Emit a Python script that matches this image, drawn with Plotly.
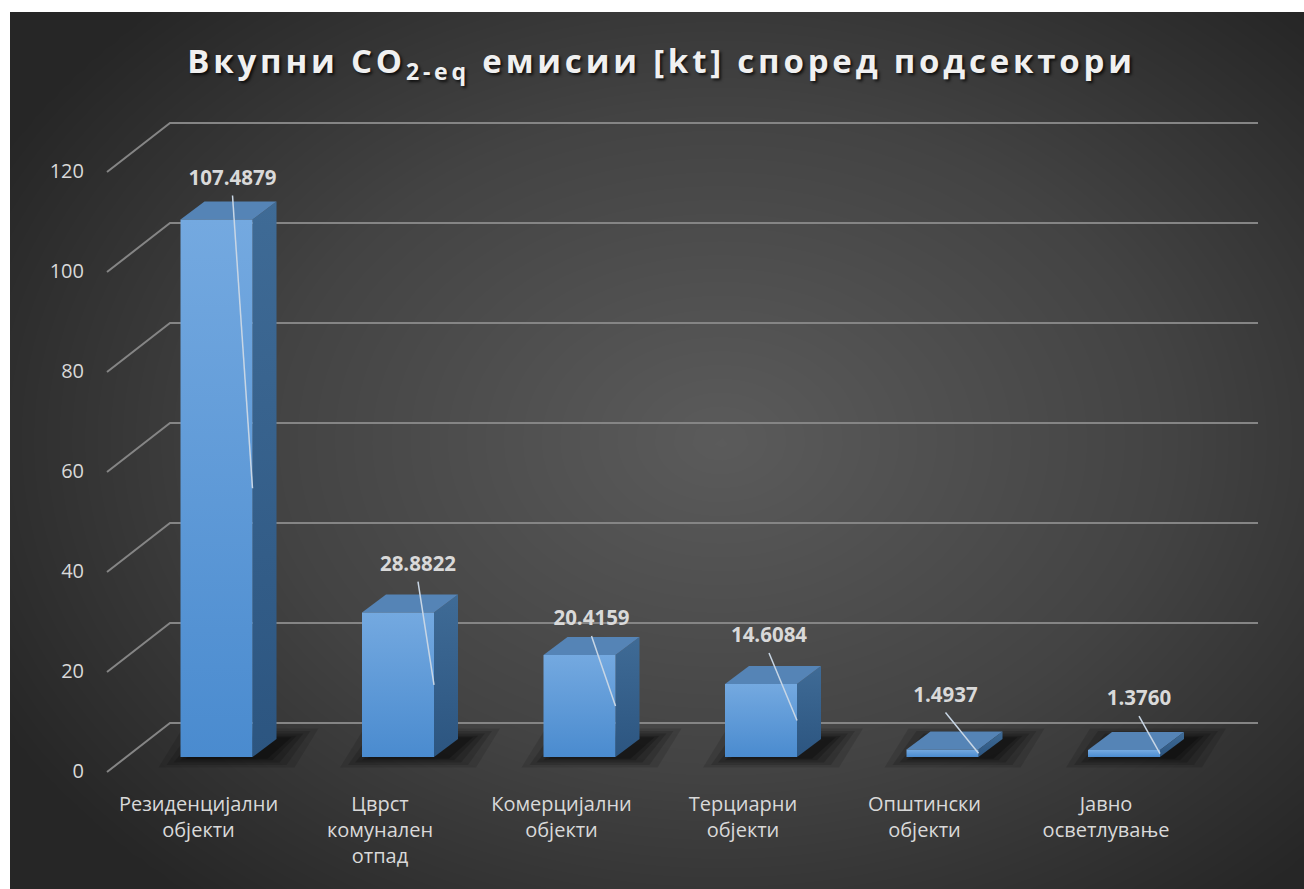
import numpy as np
import plotly.graph_objects as go

# ---------------- data ----------------
categories = ["Резиденцијални<br>објекти", "Цврст<br>комунален<br>отпад",
              "Комерцијални<br>објекти", "Терциарни<br>објекти",
              "Општински<br>објекти", "Јавно<br>осветлување"]
values = [107.4879, 28.8822, 20.4159, 14.6084, 1.4937, 1.3760]
value_labels = ["107.4879", "28.8822", "20.4159", "14.6084", "1.4937", "1.3760"]
y_ticks = [0, 20, 40, 60, 80, 100, 120]
title_text = "Вкупни CO<sub>2-eq</sub> емисии [kt] според подсектори"

# ---------------- layout / style constants ----------------
W, H = 1304, 889
PX0, STEP = 216.5, 181.5     # px of first bar front centre, px per category
Y0, PXU = 757, 5.0           # px of value 0 (bar front), px per unit
BW_PX, DX_PX, DY_PX = 72, 24, 18
label_dx_px = [16, 20, 12, 8, 3, 15]
label_dy_px = [40, 47, 35, 47, 53, 50]
FONT = "Open Sans"
TXT = "#d9d9d9"


def xd(px):
    return (px - PX0) / STEP


BW = BW_PX / STEP
DX = DX_PX / STEP
DY = DY_PX / PXU

fig = go.Figure()

# ---------------- background (radial gradient) ----------------
nx, ny = 90, 64
bx = np.linspace(10, W, nx)
by = np.linspace(12, H, ny)
BX, BY = np.meshgrid(bx, by)
R = np.sqrt(((BX - 720) / 820) ** 2 + ((BY - 440) / 600) ** 2)
R = np.clip(R, 0, 1)
fig.add_trace(go.Heatmap(x=bx, y=by, z=R, zmin=0, zmax=1, zsmooth="best",
                         colorscale=[[0, "#5b5b5b"], [0.55, "#434343"], [1, "#262626"]],
                         showscale=False, hoverinfo="skip", xaxis="x", yaxis="y"))

# ---------------- gridlines (3D wall + floor side) ----------------
gx, gy = [], []
for t in y_ticks:
    gx += [xd(107), xd(170), xd(1258), None]
    gy += [t - 3.0, t + 6.8, t + 6.8, None]
fig.add_trace(go.Scatter(x=gx, y=gy, mode="lines", line=dict(color="#858585", width=2),
                         hoverinfo="skip", xaxis="x2", yaxis="y2"))

# ---------------- shadows ----------------
for i, v in enumerate(values):
    c = i
    for e_px, op in [(32, 0.12), (24, 0.14), (17, 0.17), (10, 0.2), (5, 0.24)]:
        e = e_px / STEP
        ev = e_px * 0.33 / PXU
        sh = 10 / STEP
        xs = [c - BW / 2 - e + sh, c + BW / 2 + e + sh, c + BW / 2 + DX + e + sh, c - BW / 2 + DX - e + sh, c - BW / 2 - e + sh]
        ys = [0 - ev, 0 - ev, DY + ev, DY + ev, 0 - ev]
        fig.add_trace(go.Scatter(x=xs, y=ys, mode="lines", fill="toself",
                                 fillcolor=f"rgba(0,0,0,{op})", line=dict(width=0),
                                 hoverinfo="skip", xaxis="x2", yaxis="y2"))

# ---------------- 3D bars ----------------
for i, v in enumerate(values):
    c = i
    L, Rr = c - BW / 2, c + BW / 2
    # side face
    fig.add_trace(go.Scatter(x=[Rr, Rr + DX, Rr + DX, Rr, Rr], y=[0, DY, v + DY, v, 0],
                             mode="lines", fill="toself", line=dict(width=0),
                             fillgradient=dict(type="vertical",
                                               colorscale=[[0, "#2c5580"], [1, "#3f6b96"]]),
                             hoverinfo="skip", xaxis="x2", yaxis="y2"))
    # top face
    fig.add_trace(go.Scatter(x=[L, Rr, Rr + DX, L + DX, L], y=[v, v, v + DY, v + DY, v],
                             mode="lines", fill="toself", line=dict(width=0),
                             fillcolor="#5584b6",
                             hoverinfo="skip", xaxis="x2", yaxis="y2"))
    # front face
    fig.add_trace(go.Scatter(x=[L, Rr, Rr, L, L], y=[0, 0, v, v, 0],
                             mode="lines", fill="toself", line=dict(width=0),
                             fillgradient=dict(type="vertical",
                                               colorscale=[[0, "#4a8bcf"], [1, "#74a9e0"]]),
                             hoverinfo="skip", xaxis="x2", yaxis="y2"))

# ---------------- leader lines + data labels ----------------
lx, ly, tx, ty = [], [], [], []
for i, v in enumerate(values):
    x_lab = xd(PX0 + STEP * i + label_dx_px[i])
    y_lab = v + label_dy_px[i] / PXU
    tx.append(x_lab)
    ty.append(y_lab)
    lx += [x_lab, i + BW / 2, None]
    ly += [y_lab - 16 / PXU, v / 2, None]
fig.add_trace(go.Scatter(x=lx, y=ly, mode="lines", line=dict(color="#c8d6e5", width=1.5),
                         hoverinfo="skip", xaxis="x2", yaxis="y2"))
fig.add_trace(go.Scatter(x=tx, y=ty, mode="text", text=value_labels,
                         textposition="middle center",
                         textfont=dict(family=FONT, size=20.5, color=TXT, weight="bold"),
                         hoverinfo="skip", xaxis="x2", yaxis="y2"))

# ---------------- title ----------------
fig.add_annotation(text=title_text, xref="paper", yref="paper",
                   x=662 / W, y=1 - 63 / H, xanchor="center", yanchor="middle",
                   showarrow=False,
                   font=dict(family=FONT, size=33, color="#f0f0f0", weight="bold",
                             shadow="2px 2px 3px rgba(0,0,0,0.75)"))

fig.update_layout(
    width=W, height=H, margin=dict(l=0, r=0, t=0, b=0),
    paper_bgcolor="white", plot_bgcolor="rgba(0,0,0,0)", showlegend=False,
    xaxis=dict(domain=[10 / W, 1], range=[10, W], visible=False, fixedrange=True),
    yaxis=dict(domain=[0, 1 - 12 / H], range=[H, 12], visible=False, fixedrange=True),
    xaxis2=dict(domain=[95 / W, 1], range=[xd(95), xd(W)], anchor="y2",
                tickvals=[i - 18 / STEP for i in range(len(categories))], ticktext=categories,
                showgrid=False, zeroline=False, showline=False, ticks="",
                ticklabelstandoff=5,
                tickfont=dict(family=FONT, size=20, color=TXT), fixedrange=True),
    yaxis2=dict(domain=[(H - 785) / H, 1], range=[(Y0 - 785) / PXU, Y0 / PXU], anchor="x2",
                tickvals=[t - 2.8 for t in y_ticks], ticktext=[str(t) for t in y_ticks],
                showgrid=False, zeroline=False, showline=False, ticks="",
                ticklabelstandoff=10,
                tickfont=dict(family=FONT, size=20, color=TXT), fixedrange=True),
)

post = ("document.querySelectorAll('.annotation-text').forEach(function(e){"
        "e.style.letterSpacing='3.8px';});")
fig.write_html("out.html", post_script=post)
